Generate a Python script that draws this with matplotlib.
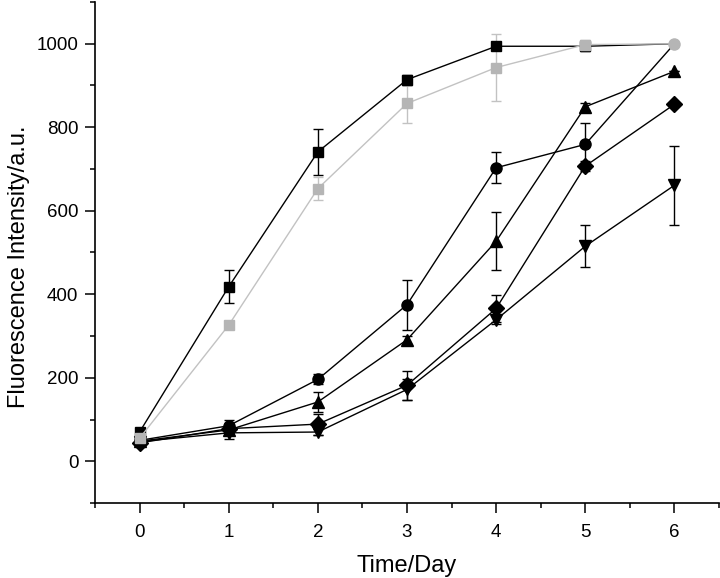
import matplotlib
matplotlib.use("Agg")
import matplotlib.pyplot as plt
from matplotlib.ticker import MultipleLocator

plt.rcParams['font.family'] = ['Liberation Sans', 'DejaVu Sans']

days = [0, 1, 2, 3, 4, 5, 6]

# black squares
sq_black = [70, 418, 741, 914, 994, 994, 1000]
sq_black_err = [5, 40, 55, 12, 8, 12, 0]
# grey squares
sq_gray = [55, 326, 653, 857, 943, 998, 1000]
sq_gray_err = [5, 8, 27, 46, 81, 10, 0]
# circles
circ = [50, 85, 196, 375, 703, 759, 1000]
circ_err = [4, 15, 12, 60, 37, 50, 0]
# up triangles
tri_up = [48, 75, 142, 291, 527, 849, 934]
tri_up_err = [3, 8, 25, 10, 70, 8, 0]
# diamonds
diam = [44, 78, 89, 182, 366, 707, 855]
diam_err = [4, 8, 25, 35, 32, 12, 0]
# down triangles
tri_dn = [47, 68, 70, 172, 339, 515, 661]
tri_dn_err = [3, 15, 8, 25, 10, 50, 95]

fig = plt.figure(figsize=(7.2, 5.78), dpi=100)
ax = fig.add_axes([95 / 720, 75 / 578, 624 / 720, 501 / 578])

black = '#000000'
gray = '#b5b5b5'

def series(y, err, marker, color, ms, lc=None, every=None):
    ax.errorbar(days, y, yerr=err, color=lc or color, ecolor=lc or color,
                marker=marker, markersize=ms, markerfacecolor=color,
                markeredgecolor=color, linewidth=1.0, elinewidth=1.0,
                capsize=3.5, capthick=1.0, markevery=every)

# the day-6 point of the two square series sits under the grey circle
series(sq_black, sq_black_err, 's', black, 6.7, every=slice(0, 6))
series(tri_dn, tri_dn_err, 'v', black, 8.5)
series(diam, diam_err, 'D', black, 8.3)
series(tri_up, tri_up_err, '^', black, 8.5)
series(circ, circ_err, 'o', black, 8, every=slice(0, 6))
series(sq_gray, sq_gray_err, 's', gray, 6.7, lc='#c2c2c2', every=slice(0, 6))
# last circle point shows in grey
ax.plot(days[-1:], circ[-1:], 'o', color=gray, markersize=8, zorder=5)

ax.set_xlim(-0.5, 6.5)
ax.set_ylim(-100, 1100)
ax.xaxis.set_major_locator(MultipleLocator(1))
ax.xaxis.set_minor_locator(MultipleLocator(0.5))
ax.yaxis.set_major_locator(MultipleLocator(200))
ax.yaxis.set_minor_locator(MultipleLocator(100))

for s in ['top', 'right']:
    ax.spines[s].set_visible(False)
for s in ['left', 'bottom']:
    ax.spines[s].set_linewidth(1.2)

ax.tick_params(which='major', direction='out', length=7, width=1.1,
               labelsize=13.5, pad=5)
ax.tick_params(which='minor', direction='out', length=3.5, width=1.1)
ax.tick_params(axis='x', which='major', pad=8)

ax.set_xlabel('Time/Day', fontsize=17)
ax.set_ylabel('Fluorescence Intensity/a.u.', fontsize=17)
ax.xaxis.set_label_coords(0.5, -0.104)
ax.yaxis.set_label_coords(-0.104, 0.471)

fig.savefig('out.png', dpi=100)
